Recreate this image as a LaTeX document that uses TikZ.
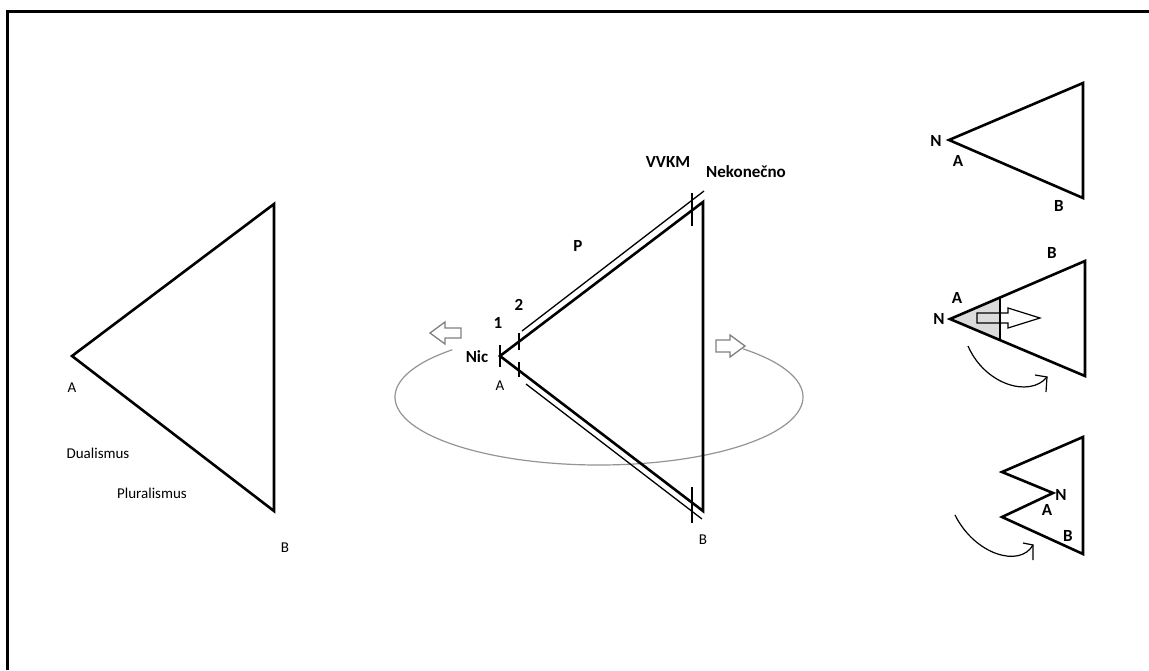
\documentclass[tikz,border=0pt]{standalone}
\usepackage{fontspec}
\setmainfont{Carlito}
\begin{document}
\begin{tikzpicture}[x=1pt,y=-1pt,
  thickline/.style={line width=2.6pt, line join=miter},
  thinline/.style={line width=1.3pt},
  tickline/.style={line width=1.5pt},
  grayline/.style={line width=1.2pt, draw=black!42},
  grayarrow/.style={line width=1.3pt, draw=black!50, line join=miter},
  lbl/.style={font=\fontsize{15}{17}\selectfont, inner sep=0pt},
  blbl/.style={font=\bfseries\fontsize{17}{19}\selectfont, inner sep=0pt}]
\useasboundingbox (0,0) rectangle (1149,670);
\fill[white] (0,0) rectangle (1149,670);
\draw[line width=3pt] (7,670) -- (7,11) -- (1149,11);

% ---------- left triangle ----------
\coordinate (LA) at (72,356);
\coordinate (LT) at (274,204);
\coordinate (LB) at (274,511);
\draw[thickline] (LA) -- (LT) -- (LB) -- cycle;
\node[lbl] (lAlbl) at (72,388) {A};
\node[lbl] (lBlbl) at (285,548) {B};
\node[lbl] (dual) at (98,453) {Dualismus};
\node[lbl] (plur) at (152,493) {Pluralismus};

% ---------- middle triangle ----------
\draw[grayline] (599,397) ++(136:204pt and 68pt) arc[start angle=136, end angle=405, x radius=204pt, y radius=68pt];
\coordinate (MA) at (500,356);
\coordinate (MT) at (703,202);
\coordinate (MB) at (703,511);
\draw[thickline] (MA) -- (MT) -- (MB) -- cycle;
% parallels
\coordinate (pu1) at (522,331); \coordinate (pu2) at (704,191);
\coordinate (pl1) at (526,384); \coordinate (pl2) at (702,519);
\draw[thinline] (pu1) -- (pu2);
\draw[thinline] (pl1) -- (pl2);
% ticks
\coordinate (t1a) at (500,345); \coordinate (t1b) at (500,367);
\coordinate (t2a) at (519,333); \coordinate (t2b) at (519,350);
\coordinate (t3a) at (519,362); \coordinate (t3b) at (519,377);
\coordinate (t4a) at (692,193); \coordinate (t4b) at (692,226);
\coordinate (t5a) at (692,487); \coordinate (t5b) at (692,523);
\draw[tickline] (t1a) -- (t1b);
\draw[tickline] (t2a) -- (t2b);
\draw[tickline] (t3a) -- (t3b);
\draw[tickline] (t4a) -- (t4b);
\draw[tickline] (t5a) -- (t5b);
% hollow arrows
\draw[grayarrow] (430,333) -- (445,322) -- (445,328) -- (461,328) -- (461,338) -- (445,338) -- (445,344) -- cycle;
\draw[grayarrow] (745,346) -- (730,335) -- (730,340) -- (716,340) -- (716,352) -- (730,352) -- (730,357) -- cycle;
% labels
\node[blbl] (nic) at (477,357) {Nic};
\node[blbl] (one) at (498,323) {1};
\node[blbl] (two) at (519,305) {2};
\node[blbl] (P) at (578,246) {P};
\node[blbl] (vvkm) at (668,162) {VVKM};
\node[blbl] (nek) at (746,172) {Nekonečno};
\node[lbl] (mAlbl) at (500,386) {A};
\node[lbl] (mBlbl) at (703,540) {B};

% ---------- right top ----------
\coordinate (R1A) at (949,140);
\coordinate (R1T) at (1083,83);
\coordinate (R1B) at (1083,198);
\draw[thickline] (R1A) -- (R1T) -- (R1B) -- cycle;
\node[blbl] (r1N) at (936,141) {N};
\node[blbl] (r1A) at (958,161) {A};
\node[blbl] (r1B) at (1059,206) {B};

% ---------- right middle ----------
\coordinate (R2A) at (950,319);
\coordinate (R2T) at (1085,261);
\coordinate (R2B) at (1085,376);
\coordinate (R2u) at (1000,297.5);
\coordinate (R2l) at (1000,340);
\fill[black!14] (R2A) -- (R2u) -- (R2l) -- cycle;
\draw[thickline] (R2A) -- (R2T) -- (R2B) -- cycle;
\draw[line width=2pt] (R2u) -- (R2l);
\draw[line width=1.2pt, line join=miter] (1040,318) -- (1008,308) -- (1008,313) -- (977,313) -- (977,323) -- (1008,323) -- (1008,328) -- cycle;
\coordinate (c2s) at (968,346);
\coordinate (c2e) at (1047,377);
\draw[line width=1.2pt] (c2s) .. controls (985,385) and (1030,398) .. (c2e);
\draw[line width=1.2pt] (1035,375) -- (c2e) -- (1046,392);
\node[blbl] (r2N) at (939,319) {N};
\node[blbl] (r2A) at (957,298) {A};
\node[blbl] (r2B) at (1052,253) {B};

% ---------- right bottom ----------
\coordinate (R3o) at (1002,472);
\coordinate (R3T) at (1083,437);
\coordinate (R3B) at (1083,554);
\coordinate (R3l) at (1002,517);
\coordinate (R3N) at (1053,493);
\draw[thickline] (R3o) -- (R3T) -- (R3B) -- (R3l) -- (R3N) -- cycle;
\coordinate (c3s) at (955,515);
\coordinate (c3e) at (1033,545);
\draw[line width=1.2pt] (c3s) .. controls (975,555) and (1020,568) .. (c3e);
\draw[line width=1.2pt] (1023,543) -- (c3e) -- (1033,560);
\node[blbl] (r3N) at (1061,495) {N};
\node[blbl] (r3A) at (1047,510) {A};
\node[blbl] (r3B) at (1068,536) {B};
\end{tikzpicture}
\end{document}
